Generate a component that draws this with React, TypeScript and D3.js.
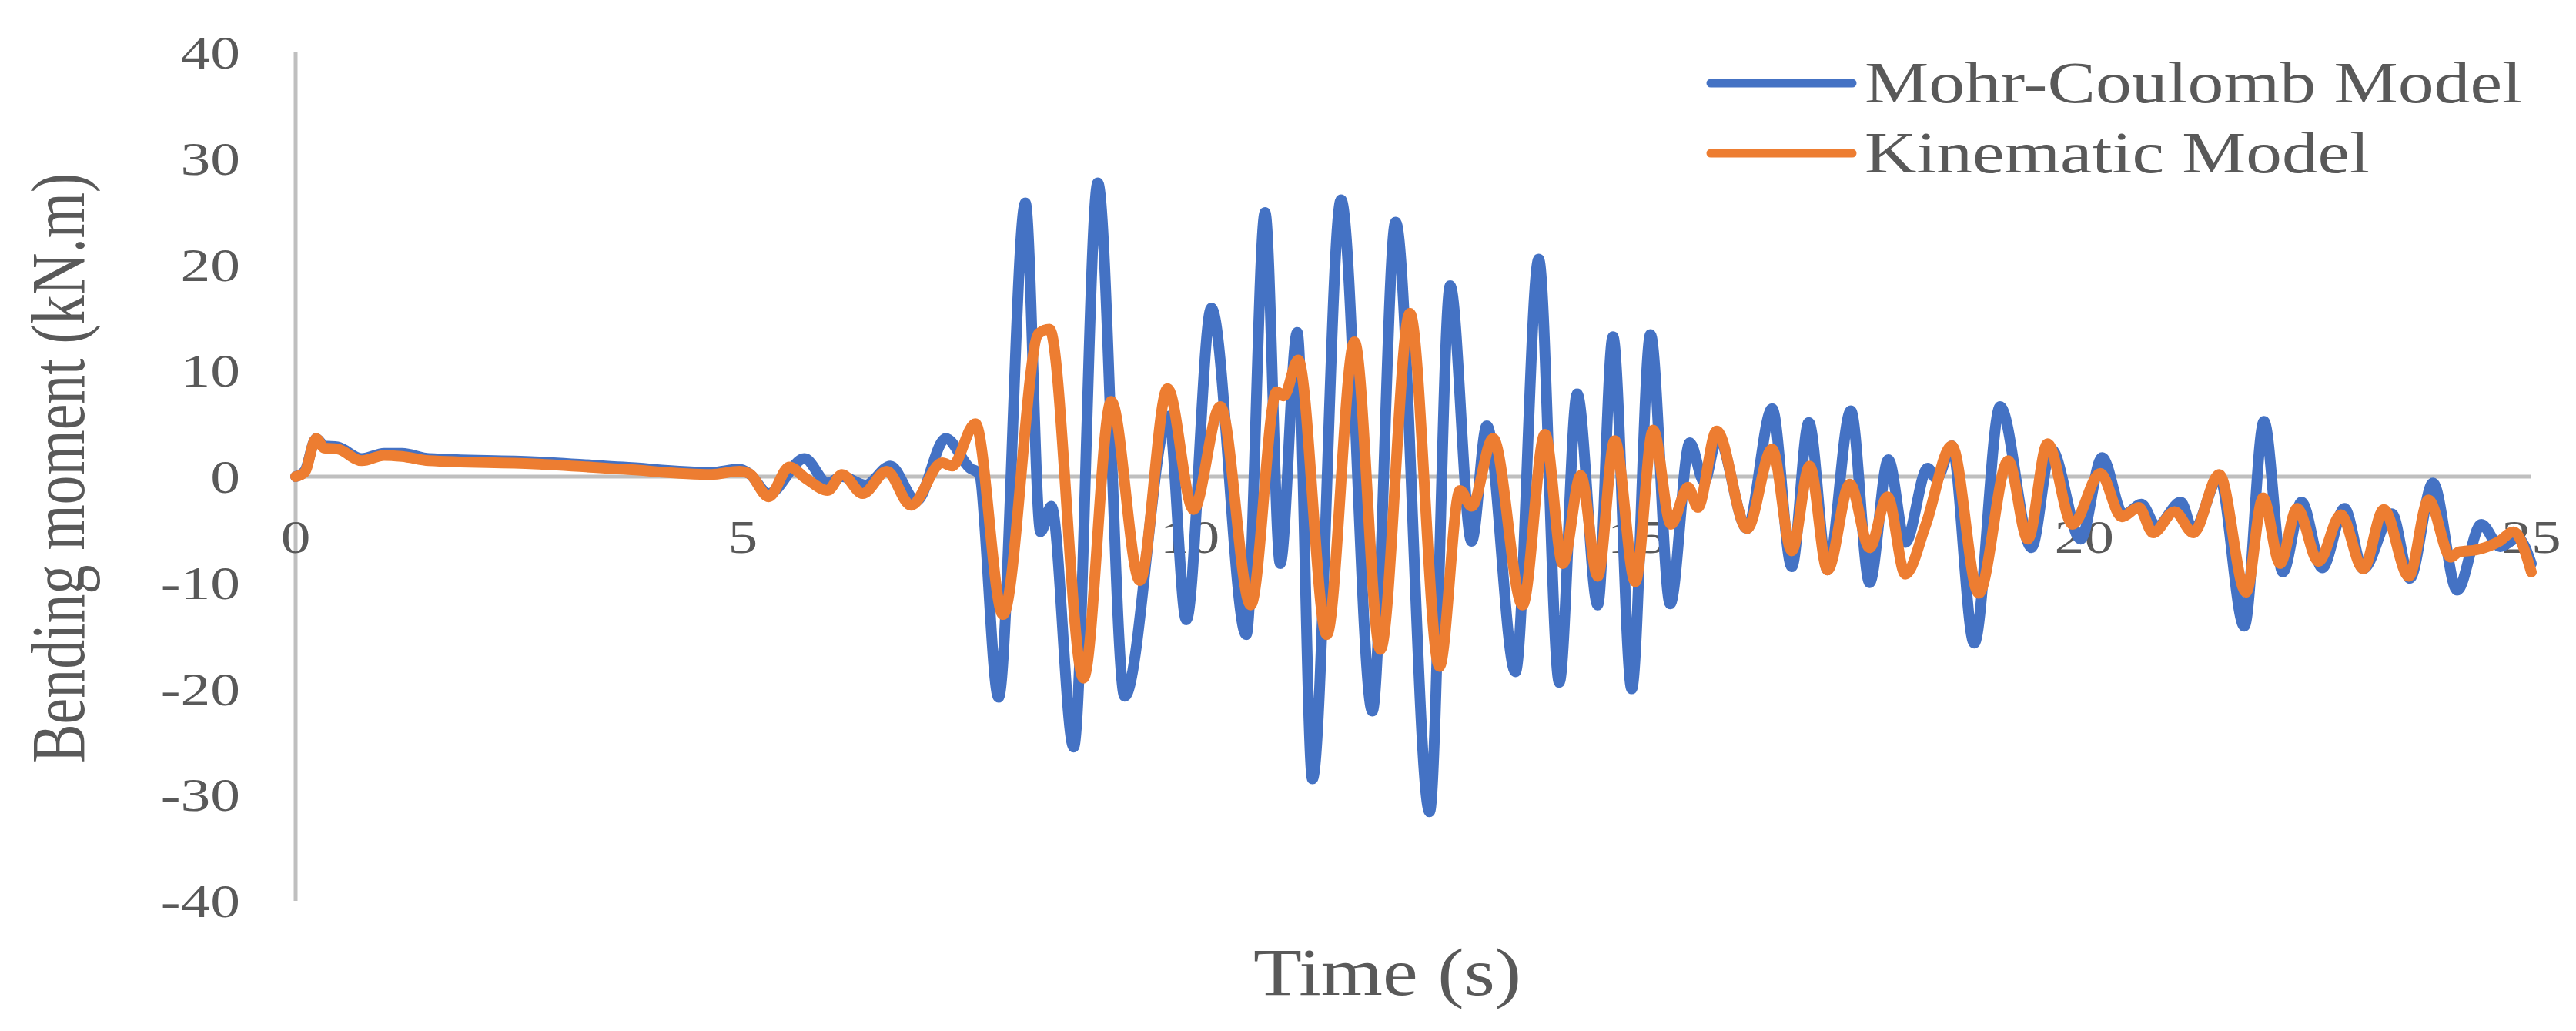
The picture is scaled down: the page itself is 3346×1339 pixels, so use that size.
import React from "react";
import * as d3 from "d3";

// ---- data ----
const mcTime = [0, 0.1, 0.23, 0.32, 0.47, 0.74, 0.99, 1.19, 1.49, 2.67, 3.66, 4.65, 4.96, 5.07, 5.29, 5.69, 5.95, 6.11, 6.37, 6.65, 6.94, 7.27, 7.54, 7.64, 7.86, 8.16, 8.33, 8.45, 8.70, 8.97, 9.27, 9.76, 9.96, 10.24, 10.63, 10.84, 11.01, 11.20, 11.37, 11.69, 12.04, 12.30, 12.68, 12.91, 13.15, 13.32, 13.64, 13.90, 14.13, 14.33, 14.56, 14.73, 14.94, 15.15, 15.37, 15.59, 15.75, 15.90, 16.23, 16.51, 16.73, 16.92, 17.13, 17.39, 17.60, 17.81, 18.00, 18.25, 18.35, 18.52, 18.77, 19.06, 19.41, 19.63, 19.96, 20.20, 20.44, 20.64, 20.81, 21.08, 21.22, 21.51, 21.79, 22.01, 22.22, 22.43, 22.66, 22.91, 23.12, 23.44, 23.64, 23.90, 24.17, 24.44, 24.65, 24.85, 25.0];
const mcMoment = [0, 0.5, 3.6, 2.9, 2.8, 1.7, 2.2, 2.2, 1.7, 1.4, 0.9, 0.4, 0.7, 0.3, -1.6, 1.7, -0.6, 0.0, -0.8, 1.0, -2.3, 3.6, 0.8, 0.3, -20.8, 25.8, -5.2, -2.8, -25.5, 27.7, -20.7, 5.7, -13.5, 15.9, -14.9, 24.9, -8.2, 13.6, -28.5, 26.1, -22.1, 24.0, -31.6, 18.0, -6.1, 4.8, -18.4, 20.5, -19.4, 7.8, -12.1, 13.2, -20.0, 13.4, -12.0, 3.2, -0.5, 3.8, -4.9, 6.4, -8.5, 5.1, -8.8, 6.2, -10.0, 1.6, -6.2, 0.8, -0.2, 2.9, -15.7, 6.6, -6.7, 2.6, -5.9, 1.8, -3.6, -2.6, -4.7, -2.4, -5.1, 0.0, -14.1, 5.2, -9.0, -2.4, -8.6, -3.0, -8.7, -3.5, -9.6, -0.6, -10.7, -4.5, -6.6, -5.8, -8.2];

const kinTime = [0, 0.1, 0.23, 0.32, 0.47, 0.74, 0.99, 1.19, 1.49, 2.67, 3.66, 4.65, 4.96, 5.07, 5.29, 5.52, 5.71, 5.95, 6.11, 6.34, 6.61, 6.88, 7.23, 7.34, 7.60, 7.91, 8.31, 8.43, 8.81, 9.12, 9.44, 9.75, 10.04, 10.34, 10.68, 10.97, 11.05, 11.21, 11.53, 11.84, 12.13, 12.46, 12.79, 13.02, 13.15, 13.39, 13.72, 13.97, 14.17, 14.37, 14.56, 14.75, 14.98, 15.18, 15.38, 15.57, 15.68, 15.89, 16.23, 16.51, 16.73, 16.93, 17.13, 17.38, 17.60, 17.80, 18.00, 18.23, 18.52, 18.82, 19.15, 19.37, 19.59, 19.87, 20.18, 20.42, 20.61, 20.77, 21.01, 21.22, 21.51, 21.81, 22.00, 22.19, 22.38, 22.62, 22.87, 23.12, 23.35, 23.63, 23.85, 24.10, 24.19, 24.39, 24.64, 24.80, 25.0];
const kinMoment = [0, 0.4, 3.6, 2.7, 2.6, 1.5, 2.0, 1.9, 1.5, 1.2, 0.7, 0.2, 0.5, 0.3, -1.9, 0.9, -0.2, -1.3, 0.2, -1.6, 0.5, -2.7, 1.3, 1.0, 5.0, -13.0, 13.5, 13.9, -19.0, 7.1, -9.8, 8.3, -3.1, 6.6, -12.1, 8.0, 7.6, 11.0, -14.9, 12.7, -16.3, 15.4, -17.9, -1.3, -2.8, 3.6, -12.1, 4.0, -8.2, 0.1, -9.4, 3.4, -9.9, 4.4, -4.5, -1.0, -2.9, 4.3, -4.9, 2.6, -7.0, 1.0, -8.8, -0.7, -6.7, -1.9, -9.2, -4.5, 2.9, -11.0, 1.5, -5.9, 3.1, -4.5, 0.3, -3.8, -2.9, -5.3, -3.3, -5.3, 0.2, -10.9, -2.0, -8.2, -3.0, -8.0, -3.6, -8.7, -3.1, -9.4, -2.2, -7.6, -7.1, -6.9, -6.1, -5.2, -9.0];

const xTicks = [0, 5, 10, 15, 20, 25];
const yTicks = [40, 30, 20, 10, 0, -10, -20, -30, -40];
const seriesNames = ["Mohr-Coulomb Model", "Kinematic Model"];
const seriesColors = ["#4472C4", "#ED7D31"];
const xTitle = "Time (s)";
const yTitle = "Bending moment (kN.m)";

const W = 3346;
const H = 1339;
const FONT = "'Liberation Serif', 'Times New Roman', serif";
const TXT = "#595959";
const GRID = "#BFBFBF";

export default function App() {
  const x = d3.scaleLinear().domain([0, 25]).range([384, 3288]);
  const y = d3.scaleLinear().domain([-40, 40]).range([1170, 68]);

  const line = d3
    .line<[number, number]>()
    .x((d) => x(d[0]))
    .y((d) => y(d[1]))
    .curve(d3.curveMonotoneX);

  const mc: [number, number][] = mcTime.map((t, i) => [t, mcMoment[i]]);
  const kin: [number, number][] = kinTime.map((t, i) => [t, kinMoment[i]]);

  const legendY = [108, 199];
  const legendTextLen = [854, 656];

  return (
    <svg
      width={W}
      height={H}
      viewBox={`0 0 ${W} ${H}`}
      style={{ position: "absolute", left: 0, top: 0, display: "block", background: "#fff" }}
    >
      <rect x={0} y={0} width={W} height={H} fill="#fff" />
      {/* y axis line */}
      <line x1={x(0)} x2={x(0)} y1={y(40)} y2={y(-40)} stroke={GRID} strokeWidth={5} />
      {/* zero line */}
      <line x1={x(0)} x2={x(25)} y1={y(0)} y2={y(0)} stroke={GRID} strokeWidth={5} />

      {/* y tick labels */}
      {yTicks.map((v) => (
        <text
          key={"y" + v}
          transform={`translate(312,${y(v) + 21}) scale(1.25,1)`}
          textAnchor="end"
          fontFamily={FONT}
          fontSize={62}
          fill={TXT}
        >
          {v}
        </text>
      ))}

      {/* x tick labels */}
      {xTicks.map((v) => (
        <text
          key={"x" + v}
          transform={`translate(${x(v)},718) scale(1.25,1)`}
          textAnchor="middle"
          fontFamily={FONT}
          fontSize={62}
          fill={TXT}
        >
          {v}
        </text>
      ))}

      {/* series */}
      <path d={line(mc) || ""} fill="none" stroke={seriesColors[0]} strokeWidth={14} strokeLinejoin="round" strokeLinecap="round" />
      <path d={line(kin) || ""} fill="none" stroke={seriesColors[1]} strokeWidth={14} strokeLinejoin="round" strokeLinecap="round" />

      {/* axis titles */}
      <text
        x={1628}
        y={1292}
        fontFamily={FONT}
        fontSize={86}
        fill={TXT}
        textLength={348}
        lengthAdjust="spacingAndGlyphs"
      >
        {xTitle}
      </text>
      <text
        transform={`translate(109,608) rotate(-90) scale(1,1.32)`}
        textAnchor="middle"
        fontFamily={FONT}
        fontSize={76}
        fill={TXT}
      >
        {yTitle}
      </text>

      {/* legend */}
      {seriesNames.map((name, i) => (
        <g key={name}>
          <line
            x1={2222}
            x2={2406}
            y1={legendY[i]}
            y2={legendY[i]}
            stroke={seriesColors[i]}
            strokeWidth={11}
            strokeLinecap="round"
          />
          <text
            x={2422}
            y={legendY[i] + 25}
            fontFamily={FONT}
            fontSize={76}
            fill={TXT}
            textLength={legendTextLen[i]}
            lengthAdjust="spacingAndGlyphs"
          >
            {name}
          </text>
        </g>
      ))}
    </svg>
  );
}
